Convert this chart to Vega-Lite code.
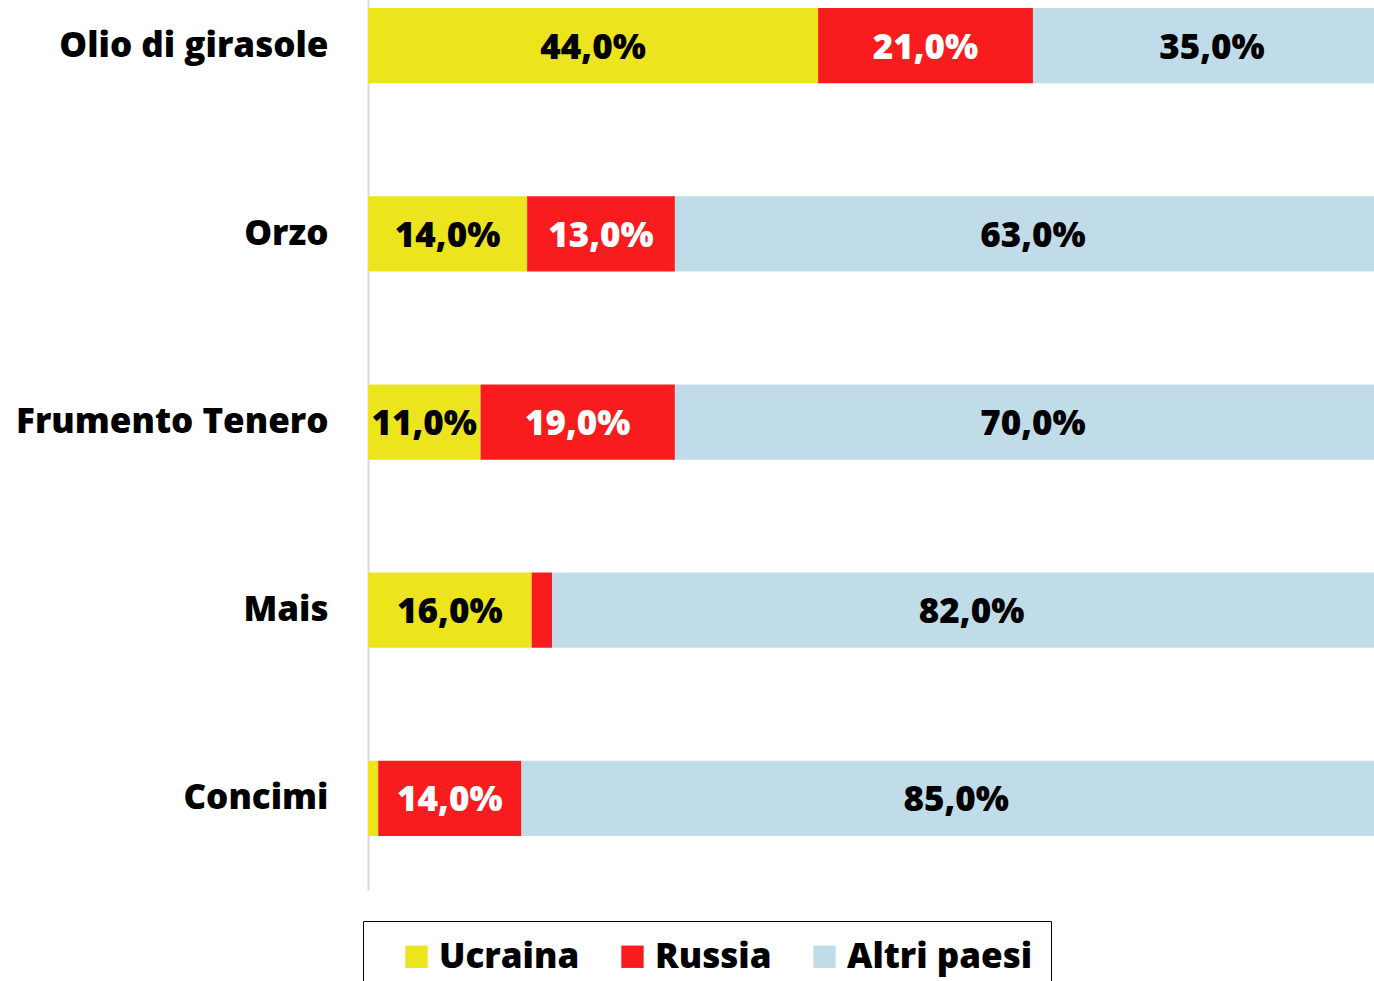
{
  "$schema": "https://vega.github.io/schema/vega-lite/v6.json",
  "autosize": "none",
  "padding": {"left": 368, "top": 0, "right": 0, "bottom": 91},
  "width": 1023,
  "height": 890,
  "background": "white",
  "config": {
    "view": {"stroke": null},
    "font": "Open Sans",
    "locale": {"number": {"decimal": ",", "thousands": ".", "grouping": [3], "currency": ["", " €"]}}
  },
  "data": {
    "values": [
      {"cat": "Olio di girasole", "country": "Ucraina", "k": 1, "v": 0.44},
      {"cat": "Olio di girasole", "country": "Russia", "k": 2, "v": 0.21},
      {"cat": "Olio di girasole", "country": "Altri paesi", "k": 3, "v": 0.35},
      {"cat": "Orzo", "country": "Ucraina", "k": 1, "v": 0.14},
      {"cat": "Orzo", "country": "Russia", "k": 2, "v": 0.13},
      {"cat": "Orzo", "country": "Altri paesi", "k": 3, "v": 0.63},
      {"cat": "Frumento Tenero", "country": "Ucraina", "k": 1, "v": 0.11},
      {"cat": "Frumento Tenero", "country": "Russia", "k": 2, "v": 0.19},
      {"cat": "Frumento Tenero", "country": "Altri paesi", "k": 3, "v": 0.70},
      {"cat": "Mais", "country": "Ucraina", "k": 1, "v": 0.16},
      {"cat": "Mais", "country": "Russia", "k": 2, "v": 0.02},
      {"cat": "Mais", "country": "Altri paesi", "k": 3, "v": 0.82},
      {"cat": "Concimi", "country": "Ucraina", "k": 1, "v": 0.01},
      {"cat": "Concimi", "country": "Russia", "k": 2, "v": 0.14},
      {"cat": "Concimi", "country": "Altri paesi", "k": 3, "v": 0.85}
    ]
  },
  "transform": [
    {"joinaggregate": [{"op": "sum", "field": "v", "as": "total"}], "groupby": ["cat"]},
    {"window": [{"op": "sum", "field": "v", "as": "cum"}], "sort": [{"field": "k"}], "groupby": ["cat"], "frame": [null, 0]},
    {"calculate": "(datum.cum - datum.v) / datum.total", "as": "x0"},
    {"calculate": "datum.cum / datum.total", "as": "x1"},
    {"calculate": "(datum.cum - datum.v / 2) / datum.total", "as": "xm"}
  ],
  "encoding": {
    "y": {
      "field": "cat",
      "type": "nominal",
      "sort": ["Olio di girasole", "Orzo", "Frumento Tenero", "Mais", "Concimi"],
      "scale": {"paddingInner": 0.6, "paddingOuter": 0.165, "align": 0.13},
      "axis": {
        "title": null,
        "ticks": false,
        "domainColor": "#d9d9d9",
        "domainWidth": 2,
        "labelFontSize": 35,
        "labelFontWeight": 800,
        "labelColor": "black",
        "labelPadding": 40,
        "labelLimit": 0
      }
    }
  },
  "layer": [
    {
      "mark": {"type": "bar"},
      "encoding": {
        "x": {"field": "x0", "type": "quantitative", "scale": {"domain": [0, 1], "nice": false, "zero": true}, "axis": null},
        "x2": {"field": "x1"},
        "color": {
          "field": "country",
          "type": "nominal",
          "sort": ["Ucraina", "Russia", "Altri paesi"],
          "scale": {"domain": ["Ucraina", "Russia", "Altri paesi"], "range": ["#ECE41C", "#F91C1E", "#C0DCE9"]},
          "legend": {
            "title": null,
            "orient": "none",
            "direction": "horizontal",
            "legendX": -5,
            "legendY": 921,
            "strokeColor": "black",
            "padding": 18,
            "symbolType": "square",
            "symbolSize": 500,
            "symbolOpacity": 1,
            "symbolStrokeWidth": 0,
            "symbolOffset": 18,
            "labelFontSize": 35,
            "labelFontWeight": 800,
            "labelColor": "black",
            "labelOffset": 5,
            "labelLimit": 0,
            "columnPadding": 17
          }
        }
      }
    },
    {
      "transform": [{"filter": "datum.v >= 0.05"}],
      "mark": {"type": "text", "fontSize": 35, "fontWeight": 800, "baseline": "middle", "align": "center", "dy": 2},
      "encoding": {
        "x": {"field": "xm", "type": "quantitative"},
        "text": {"field": "v", "type": "quantitative", "format": ".1%"},
        "color": {"condition": {"test": "datum.country === 'Russia'", "value": "white"}, "value": "black"}
      }
    }
  ]
}
